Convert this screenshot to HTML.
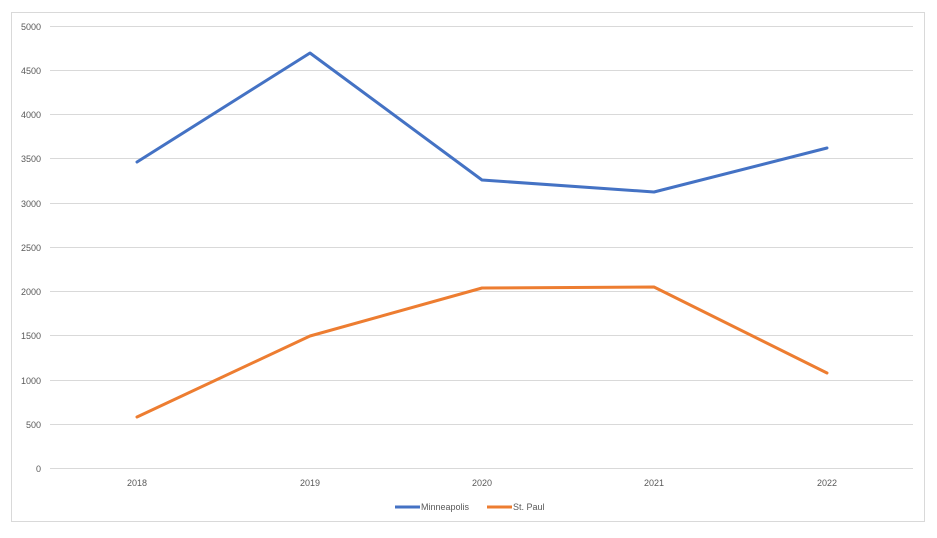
<!DOCTYPE html>
<html><head><style>
body{margin:0;background:#fff;}
svg{display:block;font-family:"Liberation Sans",sans-serif;}
</style></head><body>
<svg width="937" height="538" viewBox="0 0 937 538">
<rect x="11.5" y="12.5" width="913" height="509" fill="#fff" stroke="#d9d9d9"/>
<g stroke="#d9d9d9" stroke-width="1">
<line x1="50" x2="913" y1="26.5" y2="26.5"/>
<line x1="50" x2="913" y1="70.5" y2="70.5"/>
<line x1="50" x2="913" y1="114.5" y2="114.5"/>
<line x1="50" x2="913" y1="158.5" y2="158.5"/>
<line x1="50" x2="913" y1="203.5" y2="203.5"/>
<line x1="50" x2="913" y1="247.5" y2="247.5"/>
<line x1="50" x2="913" y1="291.5" y2="291.5"/>
<line x1="50" x2="913" y1="335.5" y2="335.5"/>
<line x1="50" x2="913" y1="380.5" y2="380.5"/>
<line x1="50" x2="913" y1="424.5" y2="424.5"/>
<line x1="50" x2="913" y1="468.5" y2="468.5"/>
</g>
<g font-size="9" fill="#595959" text-anchor="end">
<text x="41" y="30">5000</text><text x="41" y="74">4500</text><text x="41" y="118">4000</text>
<text x="41" y="162">3500</text><text x="41" y="207">3000</text><text x="41" y="251">2500</text>
<text x="41" y="295">2000</text><text x="41" y="339">1500</text><text x="41" y="384">1000</text>
<text x="41" y="428">500</text><text x="41" y="472">0</text>
</g>
<g font-size="9" fill="#595959" text-anchor="middle">
<text x="137" y="486">2018</text><text x="310" y="486">2019</text><text x="482" y="486">2020</text>
<text x="654" y="486">2021</text><text x="827" y="486">2022</text>
</g>
<polyline fill="none" stroke="#4472c4" stroke-width="3" stroke-linejoin="round" stroke-linecap="round" points="137,162 310,53 482,180 654,192 827,148"/>
<polyline fill="none" stroke="#ed7d31" stroke-width="3" stroke-linejoin="round" stroke-linecap="round" points="137,417 310,336 482,288 654,287 827,373"/>
<line x1="395" x2="420" y1="507" y2="507" stroke="#4472c4" stroke-width="3"/>
<text x="421" y="510" font-size="9" fill="#595959">Minneapolis</text>
<line x1="487" x2="512" y1="507" y2="507" stroke="#ed7d31" stroke-width="3"/>
<text x="513" y="510" font-size="9" fill="#595959">St. Paul</text>
</svg>
</body></html>
